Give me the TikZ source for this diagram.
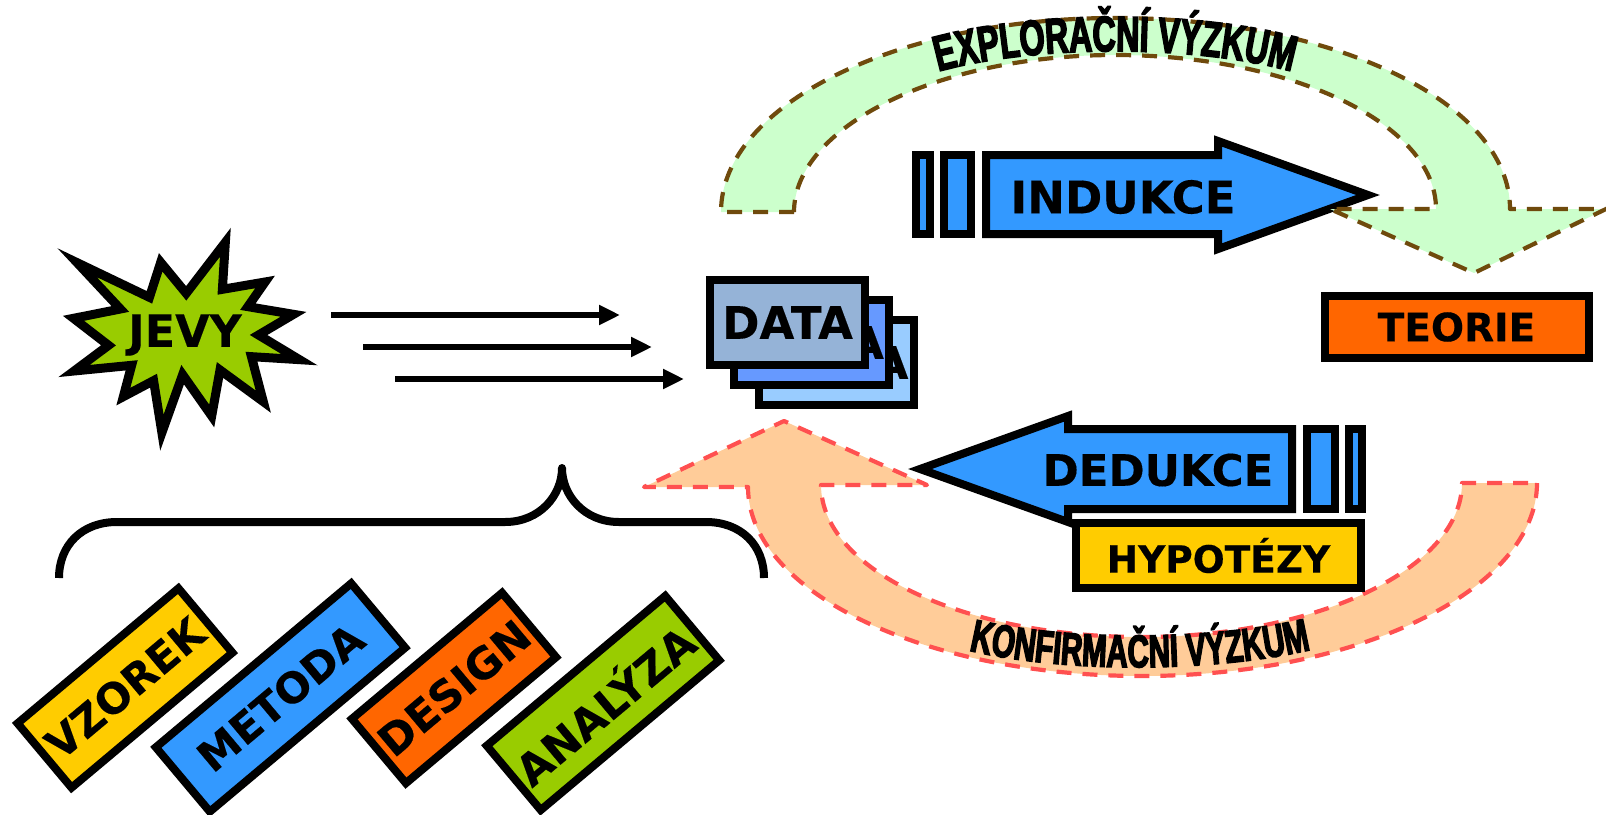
\documentclass[tikz,border=0pt]{standalone}
\usepackage{fontspec}
\setmainfont{DejaVu Sans}[BoldFeatures={FakeBold=0.3}]
\newfontfamily\archfont[FakeStretch=0.645,BoldFeatures={FakeBold=3}]{Liberation Sans}
\usetikzlibrary{arrows.meta,decorations.text}
\definecolor{cblue}{HTML}{3399FF}
\definecolor{cyellow}{HTML}{FFCC00}
\definecolor{corange}{HTML}{FF6600}
\definecolor{cgreen}{HTML}{99CC00}
\definecolor{cdata}{HTML}{95B3D7}
\definecolor{cdatab}{HTML}{6699FF}
\definecolor{cdatac}{HTML}{99CCFF}
\definecolor{cmint}{HTML}{CCFFCC}
\definecolor{cbrown}{HTML}{6F4A0C}
\definecolor{cpeach}{HTML}{FFCC99}
\definecolor{cred}{HTML}{FF5050}
\tikzset{
  heavy/.style={draw=black,line width=8pt,miter limit=12,line join=miter},
  lab/.style={font=\bfseries\fontsize{#1}{#1}\selectfont,text=black,inner sep=0pt},
  lab/.default=42pt,
  boxed/.style={heavy,rectangle,inner sep=0pt,text=black},
  tilted/.style={boxed,rotate=40,minimum height=84pt},
  databox/.style={boxed,minimum width=155pt,minimum height=85pt,font=\bfseries\fontsize{45}{46}\selectfont},
  flow/.style={line width=6.5pt,-{Triangle[length=21pt,width=19pt]}},
  bandgreen/.style={fill=cmint,draw=cbrown,line width=4.2pt,line join=round,dash pattern=on 15pt off 11pt},
  bandpeach/.style={fill=cpeach,draw=cred,line width=4.2pt,line join=round,dash pattern=on 15pt off 11pt},
  bracestroke/.style={line width=8pt}
}
\begin{document}
\begin{tikzpicture}[x=1pt,y=-1pt]
\useasboundingbox (0,0) rectangle (1606,814);

% star
\begin{scope}[shift={(0,210)},xscale=0.593,yscale=0.3333]
\draw[heavy,line width=9pt,fill=cgreen] (380,97)--(375,238)--(447,216)--(418,290)--(495,313)--(436,375)--(505,449)--(424,440)--(444,575)--(371,480)--(357,618)--(308,494)--(273,668)--(259,512)--(208,560)--(222,466)--(125,483)--(183,406)--(124,325)--(203,297)--(130,158)--(252,262)--(271,157)--(314,250)--cycle;
\end{scope}
\node[lab=44.5pt] (jevy) at (185,335) {JEVY};

% flow arrows
\coordinate (f1a) at (331,315); \coordinate (f1b) at (620,315);
\coordinate (f2a) at (363,347); \coordinate (f2b) at (652,347);
\coordinate (f3a) at (395,379); \coordinate (f3b) at (684,379);
\draw[flow] (f1a) -- (f1b);
\draw[flow] (f2a) -- (f2b);
\draw[flow] (f3a) -- (f3b);

% data stack
\node[databox,fill=cdatac] (d3) at (836,362.5) {\hspace*{14pt}DATA};
\node[databox,fill=cdatab] (d2) at (811.5,342.5) {\hspace*{14pt}DATA};
\node[databox,fill=cdata] (d1) at (787.5,322.5) {DATA};

% induction arrow
\draw[heavy,fill=cblue] (915.5,155) rectangle (930,234);
\draw[heavy,fill=cblue] (944,155) rectangle (971,234);
\draw[heavy,fill=cblue] (986,155) -- (1218,155) -- (1218,141) -- (1368,195) -- (1218,249) -- (1218,234) -- (986,234) -- cycle;
\node[lab=45pt] (ind) at (1123,197) {INDUKCE};

% exploratory band
\draw[bandgreen] (794,212) -- (721,212) .. controls (721,105) and (897,18) .. (1115,18) .. controls (1333,18) and (1510,102) .. (1510,209) -- (1606,209) -- (1474,273) -- (1330,209) -- (1436,209) .. controls (1436,124) and (1292,55) .. (1115,55) .. controls (938,55) and (794,127) .. (794,212) -- cycle;
\coordinate (ea) at (900,85); \coordinate (eb) at (1330,85);
\path[decorate,decoration={text along path,text align=center,text={|\archfont\bfseries\fontsize{50}{50}\selectfont|EXPLORAČNÍ VÝZKUM}}] (ea) .. controls (1000,40) and (1230,40) .. (eb);

% theory
\node[boxed,fill=corange,minimum width=264pt,minimum height=62pt,font=\bfseries\fontsize{39}{40}\selectfont] (teorie) at (1456.5,327) {TEORIE};

% deduction arrow
\draw[heavy,fill=cblue] (1349,429) rectangle (1362,509);
\draw[heavy,fill=cblue] (1307,429) rectangle (1335,509);
\draw[heavy,fill=cblue] (1292,429) -- (1068,429) -- (1068,416) -- (920,469) -- (1068,522) -- (1068,509) -- (1292,509) -- cycle;
\node[lab=43.5pt] (ded) at (1158,470) {DEDUKCE};

% confirmatory band
\draw[bandpeach] (1537,483) .. controls (1537,589) and (1360,676) .. (1142,676) .. controls (924,676) and (748,592) .. (748,487) -- (644,487) -- (784,421) -- (927,485) -- (821,485) .. controls (821,570) and (964,637) .. (1141,637) .. controls (1318,637) and (1462,568) .. (1462,483) -- cycle;
\coordinate (ka) at (920,635); \coordinate (kb) at (1360,635);
\path[decorate,decoration={text along path,text align=center,text={|\archfont\bfseries\fontsize{46}{46}\selectfont|KONFIRMAČNÍ VÝZKUM}}] (ka) .. controls (1020,678) and (1250,678) .. (kb);

% hypotheses
\node[boxed,fill=cyellow,minimum width=285pt,minimum height=65pt,font=\bfseries\fontsize{37.5}{40}\selectfont] (hyp) at (1218.5,555.5) {HYPOTÉZY};

% brace
\coordinate (bl) at (59,578); \coordinate (bt) at (562,468); \coordinate (br) at (764,578);
\draw[bracestroke] (bl) .. controls (59,545) and (82,522) .. (117,522) -- (505,522) .. controls (540,522) and (562,495) .. (bt) .. controls (562,495) and (584,522) .. (619,522) -- (706,522) .. controls (741,522) and (764,545) .. (br);
\fill (bt) circle (4pt);

% tilted boxes
\node[tilted,fill=cyellow,minimum width=210pt,font=\bfseries\fontsize{42}{46}\selectfont] (vz) at (125,688) {VZOREK};
\node[tilted,fill=cblue,minimum width=255pt,font=\bfseries\fontsize{42}{46}\selectfont] (me) at (280.5,697.5) {METODA};
\node[tilted,fill=corange,minimum width=196pt,font=\bfseries\fontsize{43}{46}\selectfont] (de) at (454,688) {DESIGN};
\node[tilted,fill=cgreen,minimum width=233pt,font=\bfseries\fontsize{43}{46}\selectfont] (an) at (603,703) {ANALÝZA};
\end{tikzpicture}
\end{document}
